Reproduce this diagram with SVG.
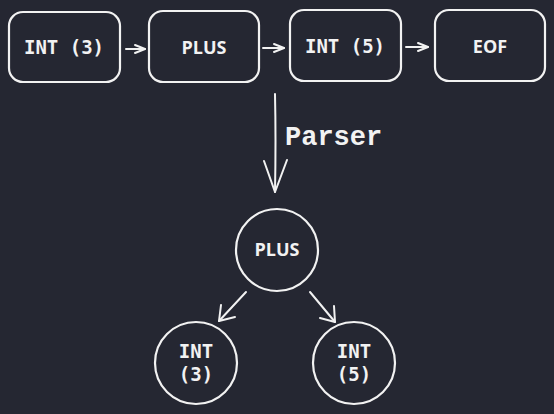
<svg xmlns="http://www.w3.org/2000/svg" width="554" height="414" viewBox="0 0 554 414">
<defs>
<style>
.shape{fill:none;stroke:#f2f2f2;stroke-width:2.2;stroke-linecap:round;stroke-linejoin:round}
.conn{fill:none;stroke:#f2f2f2;stroke-width:2;stroke-linecap:round;stroke-linejoin:round}
.mono{font-family:"DejaVu Sans Mono","Liberation Mono",monospace;font-weight:bold;font-size:19px;fill:#f2f2f2;text-anchor:middle}
.sans{font-family:"Open Sans","Noto Sans",sans-serif;font-weight:bold;font-size:18px;fill:#f2f2f2;text-anchor:middle}
.label{font-family:"Liberation Mono","Courier New",monospace;font-weight:bold;font-size:27px;fill:#f2f2f2}
</style>
<marker id="ah" viewBox="0 0 12 12" refX="11" refY="6" markerWidth="12" markerHeight="12" markerUnits="userSpaceOnUse" orient="auto">
<path d="M1,2 L11,6 L1,10" fill="none" stroke="#f2f2f2" stroke-width="2" stroke-linecap="round" stroke-linejoin="round"/>
</marker>
</defs>
<rect width="554" height="414" fill="#252732"/>

<g id="connectors">
<line class="conn" x1="126" y1="49" x2="145" y2="49" marker-end="url(#ah)"/>
<line class="conn" x1="263" y1="48" x2="284" y2="48" marker-end="url(#ah)"/>
<line class="conn" x1="406" y1="47" x2="428" y2="47" marker-end="url(#ah)"/>
<path class="conn" d="M275,94 Q276,140 275,192" stroke-width="3"/>
<path class="conn" d="M264,161 L275,192 L287,160" stroke-width="3"/>
<line class="conn" x1="246" y1="292" x2="219" y2="321"/>
<path class="conn" d="M221,305 L219,321 L235,317"/>
<line class="conn" x1="310" y1="292" x2="335" y2="322"/>
<path class="conn" d="M320,318 L335,322 L334,306"/>
<text class="label" x="285" y="145">Parser</text>
</g>

<g id="tok-int3">
<rect class="shape" x="9" y="12" width="111" height="70" rx="14"/>
<text class="mono" x="64" y="54">INT (3)</text>
</g>
<g id="tok-plus">
<rect class="shape" x="149" y="11" width="110" height="71" rx="14"/>
<text class="sans" x="204" y="54">PLUS</text>
</g>
<g id="tok-int5">
<rect class="shape" x="290" y="10" width="111" height="71" rx="14"/>
<text class="mono" x="345" y="53">INT (5)</text>
</g>
<g id="tok-eof">
<rect class="shape" x="435" y="10" width="110" height="71" rx="14"/>
<text class="sans" x="490" y="53">EOF</text>
</g>

<g id="ast-plus">
<circle class="shape" cx="277" cy="250" r="41"/>
<text class="sans" x="277" y="256" font-size="17">PLUS</text>
</g>
<g id="ast-int3">
<circle class="shape" cx="196" cy="363" r="41"/>
<text class="mono" x="196" y="358" font-size="18">INT</text>
<text class="mono" x="196" y="381" font-size="18">(3)</text>
</g>
<g id="ast-int5">
<circle class="shape" cx="354" cy="363" r="41"/>
<text class="mono" x="354" y="358" font-size="18">INT</text>
<text class="mono" x="354" y="381" font-size="18">(5)</text>
</g>
</svg>
